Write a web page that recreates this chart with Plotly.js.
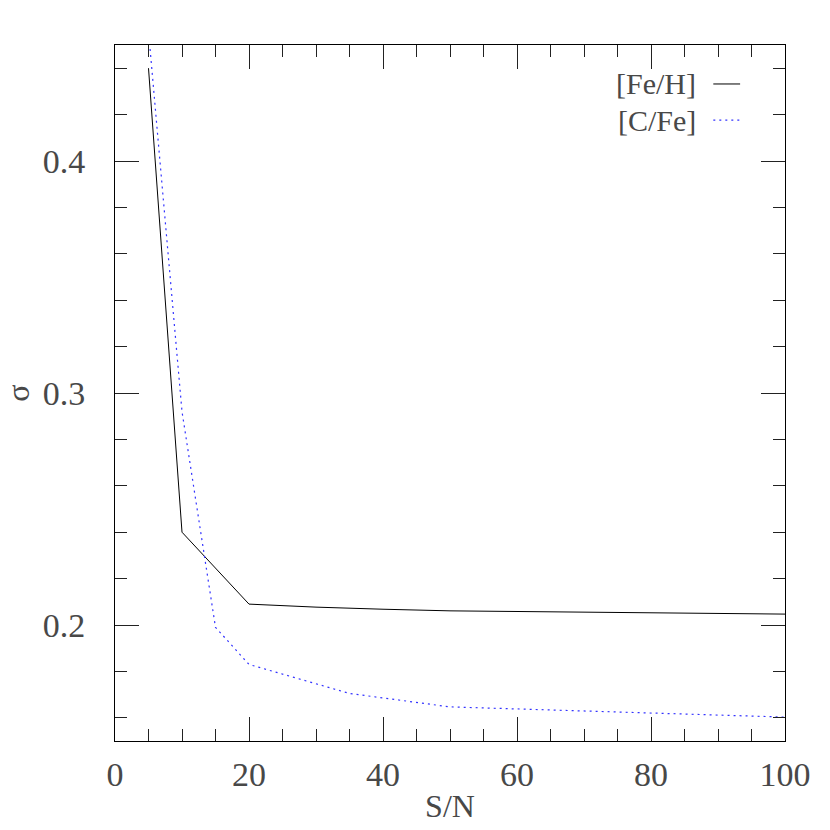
<!DOCTYPE html>
<html>
<head>
<meta charset="utf-8">
<script src="https://cdn.plot.ly/plotly-3.0.1.min.js"></script>
<style>html,body{margin:0;padding:0;background:#fff;}#plot{width:830px;height:830px;}</style>
</head>
<body>
<div id="plot"></div>
<script>
// Data
const seriesNames = ["[Fe/H]", "[C/Fe]"];
const feh_sn = [5, 10, 20, 30, 40, 50, 100];
const feh_sigma = [0.440, 0.240, 0.209, 0.2077, 0.2068, 0.2061, 0.2047];
const cfe_sn = [5, 10, 15, 20, 35, 50, 100];
const cfe_sigma = [0.456, 0.292, 0.199, 0.183, 0.1705, 0.1647, 0.1603];
const xTitle = "S/N";
const yTitle = "σ";

const FONT = "Liberation Serif, DejaVu Serif, serif";
const TXT = "#484848";

const traces = [
  {x: feh_sn, y: feh_sigma, mode: "lines", name: seriesNames[0],
   line: {color: "#000000", width: 1}, showlegend: false},
  {x: cfe_sn, y: cfe_sigma, mode: "lines", name: seriesNames[1],
   line: {color: "#3333ff", width: 1.2, dash: "2px,4px"}, showlegend: false}
];

const axisCommon = {
  showgrid: false, zeroline: false, showline: true, linecolor: "#000", linewidth: 1,
  mirror: "allticks", ticks: "inside", ticklen: 24, tickwidth: 1, tickcolor: "#222",
  tickfont: {family: FONT, size: 34, color: TXT}
};

const layout = {
  width: 830, height: 830,
  margin: {l: 115, r: 45, t: 45, b: 89},
  paper_bgcolor: "#ffffff", plot_bgcolor: "#ffffff",
  showlegend: false,
  xaxis: Object.assign({}, axisCommon, {
    range: [0, 100], tickmode: "linear", tick0: 0, dtick: 20,
    minor: {dtick: 5, ticks: "inside", ticklen: 12, tickcolor: "#222", tickwidth: 1},
    ticklabelstandoff: 3,
    title: {text: xTitle, font: {family: FONT, size: 32, color: TXT}, standoff: 2}
  }),
  yaxis: Object.assign({}, axisCommon, {
    range: [0.15, 0.45], tickmode: "linear", tick0: 0.2, dtick: 0.1, tickformat: ".1f",
    minor: {dtick: 0.02, ticks: "inside", ticklen: 12, tickcolor: "#222", tickwidth: 1},
    ticklabelstandoff: 22,
    title: {text: yTitle, font: {family: FONT, size: 32, color: TXT}, standoff: 14}
  }),
  annotations: [
    {xref: "paper", yref: "paper", x: 0.870, y: 0.944, xanchor: "right", yanchor: "middle",
     text: seriesNames[0], showarrow: false, font: {family: FONT, size: 30, color: TXT}},
    {xref: "paper", yref: "paper", x: 0.870, y: 0.892, xanchor: "right", yanchor: "middle",
     text: seriesNames[1], showarrow: false, font: {family: FONT, size: 30, color: TXT}}
  ],
  shapes: [
    {type: "line", xref: "paper", yref: "paper", x0: 0.893, x1: 0.933, y0: 0.944, y1: 0.944,
     line: {color: "#000", width: 1}},
    {type: "line", xref: "paper", yref: "paper", x0: 0.893, x1: 0.933, y0: 0.892, y1: 0.892,
     line: {color: "#3333ff", width: 1.2, dash: "2px,4px"}}
  ]
};

Plotly.newPlot("plot", traces, layout, {staticPlot: true, displayModeBar: false});
</script>
</body>
</html>
